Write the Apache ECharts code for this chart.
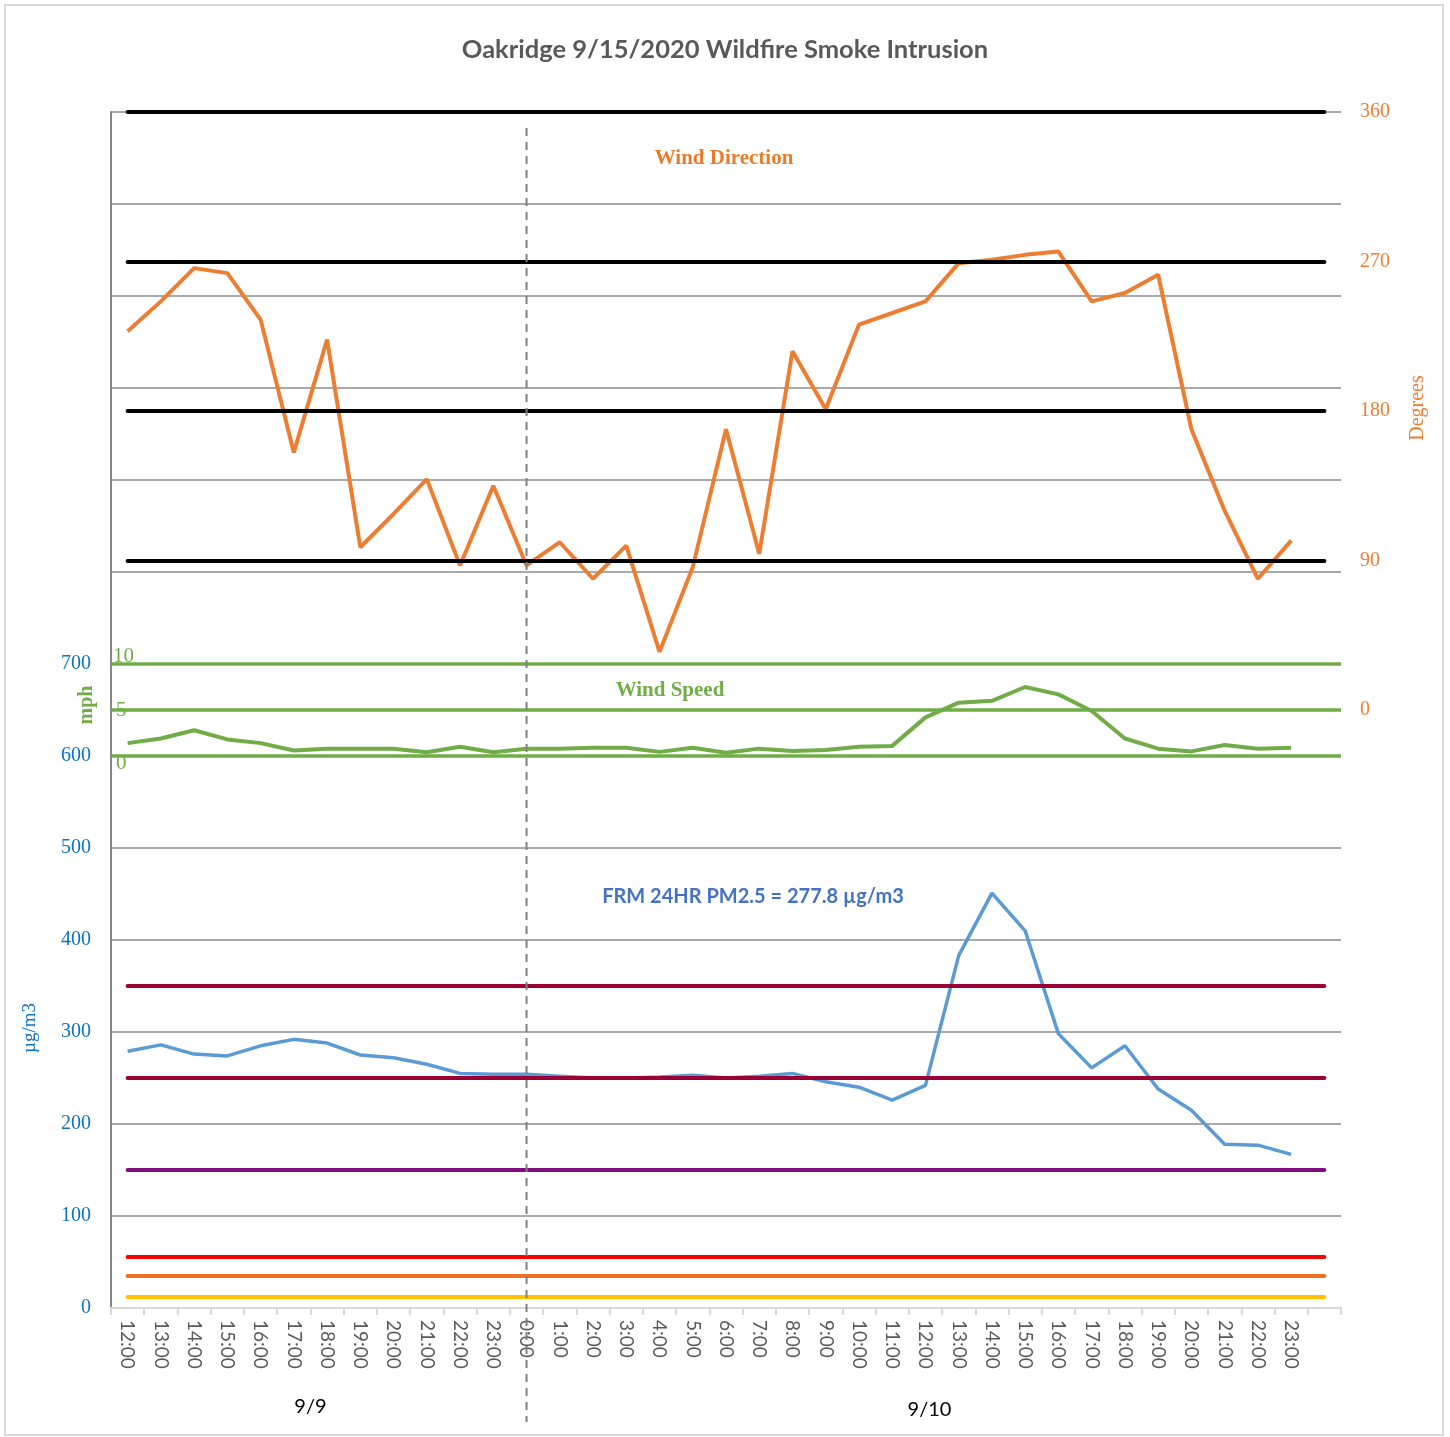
<!DOCTYPE html>
<html>
<head>
<meta charset="utf-8">
<title>Oakridge Wildfire Smoke Intrusion</title>
<script src="https://cdn.jsdelivr.net/npm/echarts@6/dist/echarts.min.js"></script>
<style>
html, body { margin: 0; padding: 0; background: #fff; }
#chart { width: 1450px; height: 1437px; }
</style>
</head>
<body>
<div id="chart"></div>
<script>
// hourly categories, 9/9 12:00 .. 9/10 23:00 plus one empty slot
var hours = ['12:00', '13:00', '14:00', '15:00', '16:00', '17:00', '18:00', '19:00', '20:00', '21:00', '22:00', '23:00',
    '0:00', '1:00', '2:00', '3:00', '4:00', '5:00', '6:00', '7:00', '8:00', '9:00', '10:00', '11:00',
    '12:00', '13:00', '14:00', '15:00', '16:00', '17:00', '18:00', '19:00', '20:00', '21:00', '22:00', '23:00', ''];

var windDir = [228, 246, 266, 263, 235, 155, 223, 98, 118, 139, 87, 135,
    87, 101, 79, 99, 35, 86, 169, 94, 216, 181, 232, 239,
    246, 269, 271, 274, 276, 246, 251, 262, 169, 120, 79, 102];

var windSpeed = [1.4, 1.9, 2.8, 1.8, 1.4, 0.6, 0.8, 0.8, 0.8, 0.4, 1.0, 0.4,
    0.8, 0.8, 0.9, 0.9, 0.45, 0.9, 0.35, 0.8, 0.55, 0.65, 1.0, 1.1,
    4.2, 5.8, 6.0, 7.5, 6.7, 4.9, 1.9, 0.8, 0.5, 1.2, 0.8, 0.9];

var pm25 = [279, 286, 276, 274, 285, 292, 288, 275, 272, 265, 255, 254,
    254, 252, 250, 250, 251, 253, 250, 252, 255, 246, 240, 226,
    242, 383, 451, 410, 298, 261, 285, 238, 215, 178, 177, 167];

var dirRefs = [0, 90, 180, 270, 360];
var speedRefs = [0, 5, 10];
var aqiLevels = [12, 35.5, 55.5, 150.5, 250.5, 350.5];
var dayLabels = ['9/9', '9/10'];

var aqiColors = ['#FFC000', '#EE7022', '#FF0000', '#7F0F7F', '#9A0033', '#9A0033'];
var serif = '"Liberation Serif", "DejaVu Serif", serif';
var last = hours.length - 1;

function refLine(v, color, width) {
    return [
        { coord: [0, v], lineStyle: { color: color, width: width, type: 'solid', cap: 'round' } },
        { coord: [last, v] }
    ];
}

var chart = echarts.init(document.getElementById('chart'));

var option = {
    animation: false,
    title: {
        text: 'Oakridge 9/15/2020 Wildfire Smoke Intrusion',
        left: 'center',
        top: 32,
        textStyle: { fontFamily: 'Lato', fontWeight: 'bold', fontSize: 25.5, color: '#595959' }
    },
    grid: { left: 111, right: 109, top: 112, bottom: 129, containLabel: false },
    xAxis: {
        type: 'category',
        data: hours,
        boundaryGap: true,
        axisLine: { lineStyle: { color: '#D9D9D9', width: 2 } },
        axisTick: { show: true, length: 7, lineStyle: { color: '#D9D9D9', width: 2 } },
        axisLabel: {
            interval: 0, rotate: -90, margin: 12,
            fontFamily: 'Lato', fontSize: 19, color: '#595959'
        },
        splitLine: { show: false }
    },
    yAxis: [
        {
            // PM2.5, only 0..700 labelled
            type: 'value', position: 'left',
            min: 0, max: 1300, interval: 100,
            axisLine: { show: true, lineStyle: { color: '#868686', width: 2 } },
            axisTick: { show: false },
            axisLabel: {
                margin: 20, fontFamily: serif, fontSize: 20, color: '#0B72C4',
                formatter: function (v) { return v <= 700 ? v : ''; }
            },
            splitLine: { show: true, lineStyle: { color: '#8C8C8C', width: 1.5 } }
        },
        {
            // wind direction, degrees
            type: 'value', position: 'right',
            min: -360, max: 360, interval: 90,
            axisLine: { show: false },
            axisTick: { show: false },
            axisLabel: {
                margin: 19, fontFamily: serif, fontSize: 20, color: '#ED7D31',
                formatter: function (v) { return v >= 0 ? v : ''; }
            },
            splitLine: { show: false }
        },
        {
            // wind speed, mph
            type: 'value', position: 'left',
            min: -60, max: 70, interval: 5,
            axisLine: { show: false },
            axisTick: { show: false },
            axisLabel: {
                inside: true, margin: 2, color: '#70AD47',
                formatter: function (v) {
                    if (v === 10) return '{hi|10}';
                    if (v === 5) return '{mid|5}';
                    if (v === 0) return '{lo|0}';
                    return '';
                },
                rich: {
                    hi: { fontFamily: serif, fontSize: 21, color: '#70AD47', padding: [0, 0, 16, 0] },
                    mid: { fontFamily: serif, fontSize: 21, color: '#70AD47', padding: [0, 0, 0, 3] },
                    lo: { fontFamily: serif, fontSize: 21, color: '#70AD47', padding: [14, 0, 0, 3] }
                }
            },
            splitLine: { show: false }
        }
    ],
    series: [
        {
            name: 'AQI levels', type: 'line', yAxisIndex: 0, data: [], z: 2,
            markLine: {
                silent: true, symbol: ['none', 'none'], label: { show: false },
                data: aqiLevels.map(function (v, i) { return refLine(v, aqiColors[i], 4); })
            }
        },
        {
            name: 'Direction refs', type: 'line', yAxisIndex: 1, data: [], z: 2,
            markLine: {
                silent: true, symbol: ['none', 'none'], label: { show: false },
                data: dirRefs.map(function (v) { return refLine(v, '#000000', v === 0 ? 1.5 : 4); })
            }
        },
        {
            name: 'Speed refs', type: 'line', yAxisIndex: 2, data: [], z: 2,
            markLine: {
                silent: true, symbol: ['none', 'none'], label: { show: false },
                lineStyle: { color: '#70AD47', width: 3.5, type: 'solid' },
                data: speedRefs.map(function (v) { return { yAxis: v }; })
            }
        },
        {
            name: 'PM2.5', type: 'line', yAxisIndex: 0, data: pm25, z: 3,
            showSymbol: false, symbol: 'none',
            lineStyle: { color: '#5B9BD5', width: 3.5 }
        },
        {
            name: 'Wind Speed', type: 'line', yAxisIndex: 2, data: windSpeed, z: 3,
            showSymbol: false, symbol: 'none',
            lineStyle: { color: '#70AD47', width: 4 }
        },
        {
            name: 'Wind Direction', type: 'line', yAxisIndex: 1, data: windDir, z: 3,
            showSymbol: false, symbol: 'none',
            lineStyle: { color: '#ED7D31', width: 4 }
        }
    ]
};

chart.setOption(option);

// day split and day labels placed from the category scale
var xMid = chart.convertToPixel({ xAxisIndex: 0 }, 12);
var day1 = (chart.convertToPixel({ xAxisIndex: 0 }, 0) + chart.convertToPixel({ xAxisIndex: 0 }, 11)) / 2;
var day2 = (chart.convertToPixel({ xAxisIndex: 0 }, 12) + chart.convertToPixel({ xAxisIndex: 0 }, last)) / 2;

function label(x, y, text, font, color, rot) {
    return {
        type: 'text', x: x, y: y, rotation: rot || 0, z: 10, silent: true,
        style: {
            text: text, font: font, fill: color,
            align: 'center', verticalAlign: 'middle',
            textAlign: 'center', textVerticalAlign: 'middle'
        }
    };
}

chart.setOption({
    graphic: [
        {
            type: 'rect', silent: true, z: 0,
            shape: { x: 5, y: 5, width: 1438, height: 1430 },
            style: { fill: 'none', stroke: '#D9D9D9', lineWidth: 2 }
        },
        {
            type: 'line', silent: true, z: 5,
            shape: { x1: xMid, y1: 128, x2: xMid, y2: 1422 },
            style: { stroke: '#808080', lineWidth: 2, lineDash: [8, 6] }
        },
        label(day1, 1407, dayLabels[0], '20px Lato', '#000000'),
        label(day2 + 4, 1410, dayLabels[1], '20px Lato', '#000000'),
        label(724, 159, 'Wind Direction', 'bold 21px ' + serif, '#E97C2A'),
        label(670, 691, 'Wind Speed', 'bold 21px ' + serif, '#70AD47'),
        label(753, 897, 'FRM 24HR PM2.5 = 277.8 \u00b5g/m3', 'bold 20px Lato', '#4472C4'),
        label(30, 1028, '\u00b5g/m3', '19px ' + serif, '#0B72C4', Math.PI / 2),
        label(87, 705, 'mph', 'bold 20px ' + serif, '#70AD47', Math.PI / 2),
        label(1418, 408, 'Degrees', '20px ' + serif, '#ED7D31', Math.PI / 2)
    ]
});
</script>
</body>
</html>
